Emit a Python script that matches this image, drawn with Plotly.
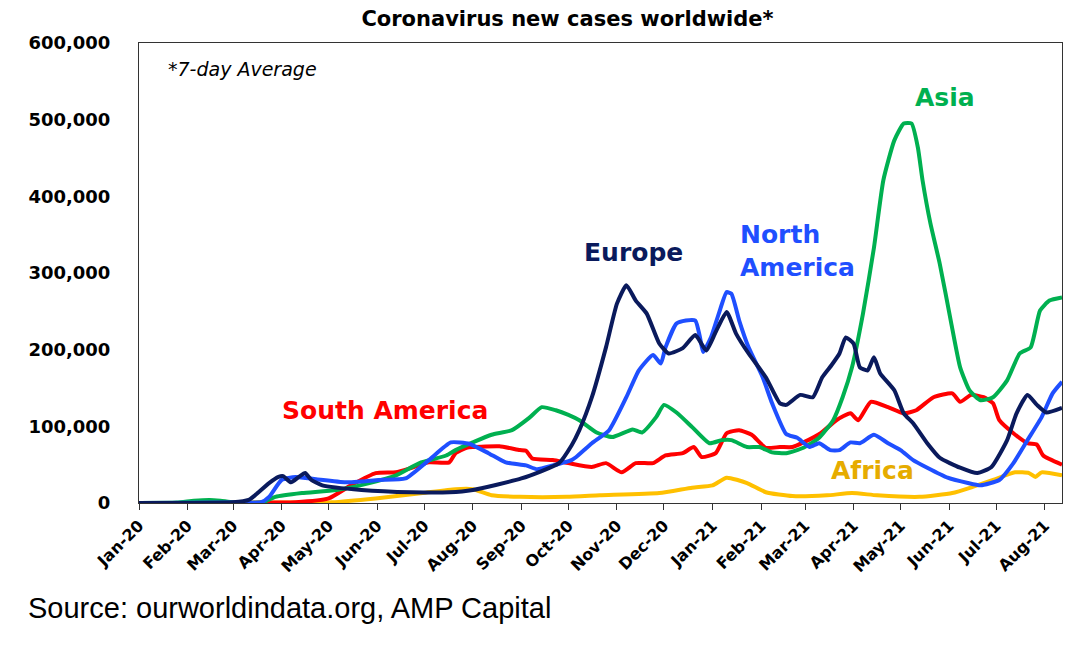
import plotly.graph_objects as go

# ---------------- data (thousands of new cases, 7-day average) ----------------
europe_dates = ["2020-01-01", "2020-03-01", "2020-03-11", "2020-03-15", "2020-03-24", "2020-03-30",
                "2020-04-02", "2020-04-07", "2020-04-12", "2020-04-16", "2020-04-20", "2020-04-27",
                "2020-05-22", "2020-06-23", "2020-07-17", "2020-08-01", "2020-09-01", "2020-09-25",
                "2020-10-03", "2020-10-08", "2020-10-16", "2020-10-25", "2020-11-01", "2020-11-07",
                "2020-11-13", "2020-11-20", "2020-11-28", "2020-12-04", "2020-12-13", "2020-12-21",
                "2020-12-28", "2021-01-03", "2021-01-10", "2021-01-16", "2021-01-24", "2021-02-04",
                "2021-02-13", "2021-02-17", "2021-02-26", "2021-03-06", "2021-03-12", "2021-03-18",
                "2021-03-23", "2021-03-27", "2021-04-01", "2021-04-05", "2021-04-10", "2021-04-14",
                "2021-04-18", "2021-04-27", "2021-05-03", "2021-05-09", "2021-05-18", "2021-05-26",
                "2021-06-08", "2021-06-19", "2021-06-28", "2021-07-08", "2021-07-14", "2021-07-21",
                "2021-07-27", "2021-08-02", "2021-08-12"]
europe_k = [0, 1, 4, 10, 26, 34,
            35, 27, 34, 39, 30, 23,
            17, 14, 14, 17, 32, 52,
            75, 95, 138, 203, 260, 284,
            264, 247, 208, 195, 202, 219,
            199, 223, 249, 221, 195, 164,
            130, 128, 141, 138, 164, 180,
            195, 216, 208, 177, 173, 190,
            169, 147, 117, 104, 78, 59,
            46, 39, 47, 82, 117, 141,
            128, 118, 124]

namerica_dates = ["2020-01-01", "2020-03-01", "2020-03-19", "2020-03-24", "2020-04-01", "2020-04-10",
                  "2020-04-23", "2020-05-12", "2020-06-02", "2020-06-19", "2020-07-04", "2020-07-18",
                  "2020-07-30", "2020-08-11", "2020-08-22", "2020-09-04", "2020-09-11", "2020-09-21",
                  "2020-10-03", "2020-10-06", "2020-10-16", "2020-10-27", "2020-11-07", "2020-11-15",
                  "2020-11-24", "2020-11-29", "2020-12-02", "2020-12-09", "2020-12-15", "2020-12-21",
                  "2020-12-24", "2020-12-26", "2020-12-31", "2021-01-05", "2021-01-10", "2021-01-13",
                  "2021-01-18", "2021-01-24", "2021-02-02", "2021-02-08", "2021-02-17", "2021-02-24",
                  "2021-03-04", "2021-03-10", "2021-03-17", "2021-03-23", "2021-03-30", "2021-04-05",
                  "2021-04-14", "2021-04-23", "2021-05-01", "2021-05-09", "2021-05-18", "2021-05-31",
                  "2021-06-13", "2021-06-21", "2021-07-03", "2021-07-12", "2021-07-21", "2021-07-30",
                  "2021-08-06", "2021-08-12"]
namerica_k = [0, 0.5, 1, 8, 30, 34,
              31, 27, 30, 32, 56, 79,
              77, 65, 53, 49, 44, 49,
              56, 60, 78, 95, 138, 173,
              193, 182, 203, 234, 238, 238,
              216, 197, 216, 247, 275, 273,
              238, 203, 164, 130, 90, 85,
              73, 78, 69, 69, 79, 78,
              89, 78, 69, 56, 46, 33,
              26, 23, 30, 52, 82, 112,
              143, 158]

asia_dates = ["2020-01-01", "2020-01-25", "2020-02-05", "2020-02-15", "2020-02-22", "2020-03-01",
              "2020-03-20", "2020-03-28", "2020-04-14", "2020-05-06", "2020-05-27", "2020-06-13",
              "2020-06-28", "2020-07-15", "2020-07-21", "2020-08-01", "2020-08-13", "2020-08-26",
              "2020-09-06", "2020-09-14", "2020-09-23", "2020-10-01", "2020-10-08", "2020-10-19",
              "2020-10-29", "2020-11-11", "2020-11-17", "2020-11-26", "2020-12-01", "2020-12-09",
              "2020-12-19", "2020-12-30", "2021-01-07", "2021-01-13", "2021-01-23", "2021-01-31",
              "2021-02-08", "2021-02-17", "2021-02-28", "2021-03-10", "2021-03-19", "2021-03-25",
              "2021-03-31", "2021-04-07", "2021-04-14", "2021-04-20", "2021-04-27", "2021-05-03",
              "2021-05-08", "2021-05-12", "2021-05-15", "2021-05-20", "2021-05-26", "2021-06-02",
              "2021-06-08", "2021-06-14", "2021-06-21", "2021-06-29", "2021-07-08", "2021-07-16",
              "2021-07-23", "2021-07-29", "2021-08-04", "2021-08-12"]
asia_k = [0, 0.5, 3, 4, 3, 1,
          1, 8, 13, 17, 26, 36,
          52, 62, 69, 79, 89, 95,
          111, 125, 121, 115, 108, 92,
          86, 96, 92, 112, 128, 118,
          99, 78, 82, 82, 73, 73,
          66, 65, 72, 85, 108, 138,
          177, 247, 333, 421, 473, 495,
          495, 464, 421, 365, 312, 238,
          177, 147, 134, 138, 160, 195,
          203, 251, 264, 268]

samerica_dates = ["2020-01-01", "2020-02-25", "2020-03-20", "2020-04-10", "2020-05-01", "2020-05-16",
                  "2020-05-31", "2020-06-13", "2020-06-23", "2020-07-04", "2020-07-17", "2020-07-21",
                  "2020-07-28", "2020-08-01", "2020-08-18", "2020-08-31", "2020-09-04", "2020-09-08",
                  "2020-09-21", "2020-10-01", "2020-10-16", "2020-10-25", "2020-11-04", "2020-11-13",
                  "2020-11-24", "2020-12-02", "2020-12-13", "2020-12-20", "2020-12-25", "2021-01-03",
                  "2021-01-10", "2021-01-18", "2021-01-26", "2021-02-04", "2021-02-13", "2021-02-21",
                  "2021-02-28", "2021-03-11", "2021-03-21", "2021-03-30", "2021-04-04", "2021-04-12",
                  "2021-04-23", "2021-05-03", "2021-05-11", "2021-05-22", "2021-06-03", "2021-06-08",
                  "2021-06-15", "2021-06-23", "2021-06-29", "2021-07-03", "2021-07-12", "2021-07-21",
                  "2021-07-27", "2021-07-31", "2021-08-12"]
samerica_k = [0, 0, 0.5, 1, 6, 24,
              39, 40, 46, 53, 53, 65,
              72, 73, 74, 69, 68, 58,
              56, 52, 47, 52, 40, 52,
              52, 62, 65, 73, 60, 65,
              91, 95, 89, 72, 73, 73,
              79, 91, 108, 117, 108, 132,
              125, 117, 121, 138, 143, 132,
              141, 138, 130, 108, 91, 78,
              76, 62, 50]

africa_dates = ["2020-01-01", "2020-04-01", "2020-05-03", "2020-05-31", "2020-06-30", "2020-07-21",
                "2020-08-01", "2020-08-13", "2020-08-31", "2020-09-30", "2020-10-21", "2020-11-28",
                "2020-12-19", "2021-01-01", "2021-01-10", "2021-01-23", "2021-02-04", "2021-02-21",
                "2021-03-15", "2021-03-31", "2021-04-16", "2021-05-13", "2021-06-03", "2021-06-16",
                "2021-06-29", "2021-07-13", "2021-07-22", "2021-07-26", "2021-07-30", "2021-08-12"]
africa_k = [0, 0.5, 1, 6, 13, 18,
            18, 10, 8, 8, 10, 13,
            20, 23, 33, 26, 14, 9,
            10, 13, 10, 8, 13, 21,
            30, 40, 39, 34, 40, 36]

series = [
    ("Africa", africa_dates, africa_k, "#ffc000"),
    ("South America", samerica_dates, samerica_k, "#ff0000"),
    ("Asia", asia_dates, asia_k, "#00b050"),
    ("North America", namerica_dates, namerica_k, "#1f4fff"),
    ("Europe", europe_dates, europe_k, "#0a1a5c"),
]

fig = go.Figure()
for name, d, v, c in series:
    fig.add_trace(go.Scatter(x=d, y=[k * 1000 for k in v], mode="lines", name=name,
                             line=dict(color=c, width=4, shape="spline", smoothing=0.5)))

BOLD = "DejaVu Sans, Verdana, sans-serif"
REG = "Liberation Sans, Arial, sans-serif"

fig.update_layout(
    width=1078, height=645,
    margin=dict(l=131, r=24, t=35, b=150),
    paper_bgcolor="white", plot_bgcolor="white",
    showlegend=False,
    title=dict(text="<b>Coronavirus new cases worldwide*</b>", xref="container", x=0.519,
               xanchor="center", yref="container", y=0.995, yanchor="top",
               font=dict(family=BOLD, size=21, color="black")),
    font=dict(family=REG, color="black"),
)

fig.update_xaxes(
    type="date", range=["2020-01-01", "2021-08-12"],
    tick0="2020-01-01", dtick="M1", tickformat="%b-%y", tickangle=-45,
    ticks="outside", ticklen=6, tickcolor="#333", tickwidth=1,
    showline=True, linecolor="#333", linewidth=1, mirror=True,
    showgrid=False, zeroline=False,
    tickfont=dict(family=BOLD, size=16, color="black", weight="bold"),
)
fig.update_yaxes(
    range=[0, 600000], dtick=100000, tickformat=",",
    ticks="", showline=True, linecolor="#333", linewidth=1, mirror=True,
    showgrid=False, zeroline=False, ticklabelstandoff=24,
    tickfont=dict(family=BOLD, size=18, color="black", weight="bold"),
)

annot_text = ["*7-day Average", "Europe", "North<br>America", "Asia", "South America", "Africa"]
annot_x = ["2020-01-18", "2020-10-10", "2021-01-17", "2021-05-09", "2020-03-31", "2021-03-16"]
annot_y = [566000, 327000, 329000, 529000, 121000, 42000]
annot_color = ["black", "#0a1a5c", "#1f4fff", "#00b050", "#ff0000", "#e6ac00"]

for i, (txt, x, y, c) in enumerate(zip(annot_text, annot_x, annot_y, annot_color)):
    if i == 0:
        t, fam, size = "<i>" + txt + "</i>", BOLD, 19
    else:
        t, fam, size = "<b>" + txt + "</b>", BOLD, 25
    fig.add_annotation(x=x, y=y, xref="x", yref="y", text=t, showarrow=False,
                       xanchor="left", yanchor="middle", align="left",
                       font=dict(family=fam, size=size, color=c))

fig.add_annotation(text="Source: ourworldindata.org, AMP Capital", xref="paper", yref="paper",
                   x=-0.122, y=-0.228, xanchor="left", yanchor="middle", showarrow=False,
                   font=dict(family=REG, size=29, color="black"))

fig.write_html("out.html")
